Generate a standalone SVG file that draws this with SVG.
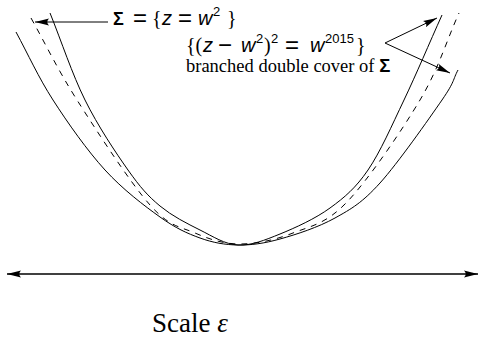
<svg xmlns="http://www.w3.org/2000/svg" width="479" height="337" viewBox="0 0 479 337">
<style>
.c{fill:none;stroke:#000;stroke-width:1}
.d{fill:none;stroke:#000;stroke-width:1;stroke-dasharray:6,6}
.a{fill:none;stroke:#000;stroke-width:1}
.h{fill:none;stroke:#000;stroke-width:1.3}
.s{font-family:"Liberation Sans",Arial,sans-serif;font-size:20px;fill:#000}
.p{font-size:13px}
.o{font-size:24px}
.r{font-family:"Liberation Serif","Times New Roman",serif;fill:#000}
.b{font-family:"Liberation Serif","Times New Roman",serif;font-size:20px}
.i{font-style:italic}
</style>
<defs>
<marker id="ah" markerUnits="userSpaceOnUse" markerWidth="14" markerHeight="8" viewBox="0 0 14 8" refX="14" refY="4" orient="auto-start-reverse">
<path d="M14,4 L0,0.5 Q3.5,4 0,7.5 Z" fill="#000"/>
</marker>
</defs>
<g id="curves">
<path id="sigma-curve" class="d" d="M31,18 C46.3,45.3 57.2,68.8 77,100 C96.8,131.2 130.3,182.8 150,205 C169.7,227.2 180,226.5 195,233 C210,239.5 223.7,244 240,244 C256.3,244 275.2,240 293,233 C310.8,226 325.8,224.2 347,202 C368.2,179.8 401.3,131.5 420,100 C438.7,68.5 446,42 459,13"/>
<path id="branch-outer" class="c" d="M16,32 C28.3,54.7 38.2,77 53,100 C67.8,123 87.2,150.5 105,170 C122.8,189.5 144.2,205.7 160,217 C175.8,228.3 187,233.3 200,238 C213,242.7 224.7,244.8 238,245 C251.3,245.2 263.8,243.5 280,239 C296.2,234.5 318.3,227.3 335,218 C351.7,208.7 362.2,202.7 380,183 C397.8,163.3 429,118.8 442,100 C455,81.2 452.7,80 458,70"/>
<path id="branch-inner" class="c" d="M50,13 C61.7,42 72,73.8 85,100 C98,126.2 115.5,152.3 128,170 C140.5,187.7 148,196 160,206 C172,216 187,223.5 200,230 C213,236.5 224.7,244.3 238,245 C251.3,245.7 264.7,240.2 280,234 C295.3,227.8 315.3,218.7 330,208 C344.7,197.3 355.7,188 368,170 C380.3,152 391.7,125.8 404,100 C416.3,74.2 429.3,43.3 442,15"/>
</g>
<g id="connectors">
<line class="a" x1="108" y1="22" x2="35" y2="22" marker-end="url(#ah)"/>
<line class="a" x1="385" y1="43" x2="437" y2="18" marker-end="url(#ah)"/>
<line class="a" x1="385" y1="43" x2="450" y2="73" marker-end="url(#ah)"/>
<line class="h" x1="7" y1="274" x2="478" y2="274" marker-start="url(#ah)" marker-end="url(#ah)"/>
</g>
<g id="label-sigma">
<text class="s" y="25"><tspan x="113" font-weight="bold" font-size="18">Σ</tspan><tspan x="133" y="26" class="o">=</tspan><tspan x="152" y="25" class="b">{</tspan><tspan x="162" class="i">z</tspan><tspan x="178" y="26" class="o">=</tspan><tspan x="198" y="25" class="i">w</tspan><tspan x="213" y="16" class="p">2</tspan><tspan x="227" y="25" class="b">}</tspan></text>
</g>
<g id="label-cover">
<text class="s" y="52"><tspan x="186" class="b">{(</tspan><tspan x="203" class="i">z</tspan><tspan x="218" y="53" class="o">−</tspan><tspan x="241" y="52" class="i">w</tspan><tspan x="256" y="43" class="p">2</tspan><tspan x="264" y="52" class="b">)</tspan><tspan x="271" y="43" class="p">2</tspan><tspan x="285" y="53" class="o">=</tspan><tspan x="310" y="52" class="i">w</tspan><tspan x="325" y="43" class="p">2015</tspan><tspan x="356" y="52" class="b">}</tspan></text>
<text class="r" x="186" y="72" font-size="18.5">branched double cover of <tspan font-family="Liberation Sans,Arial,sans-serif" font-weight="bold">Σ</tspan></text>
</g>
<g id="label-scale">
<text class="r" x="152" y="332" font-size="27">Scale <tspan class="i">ε</tspan></text>
</g>
</svg>
